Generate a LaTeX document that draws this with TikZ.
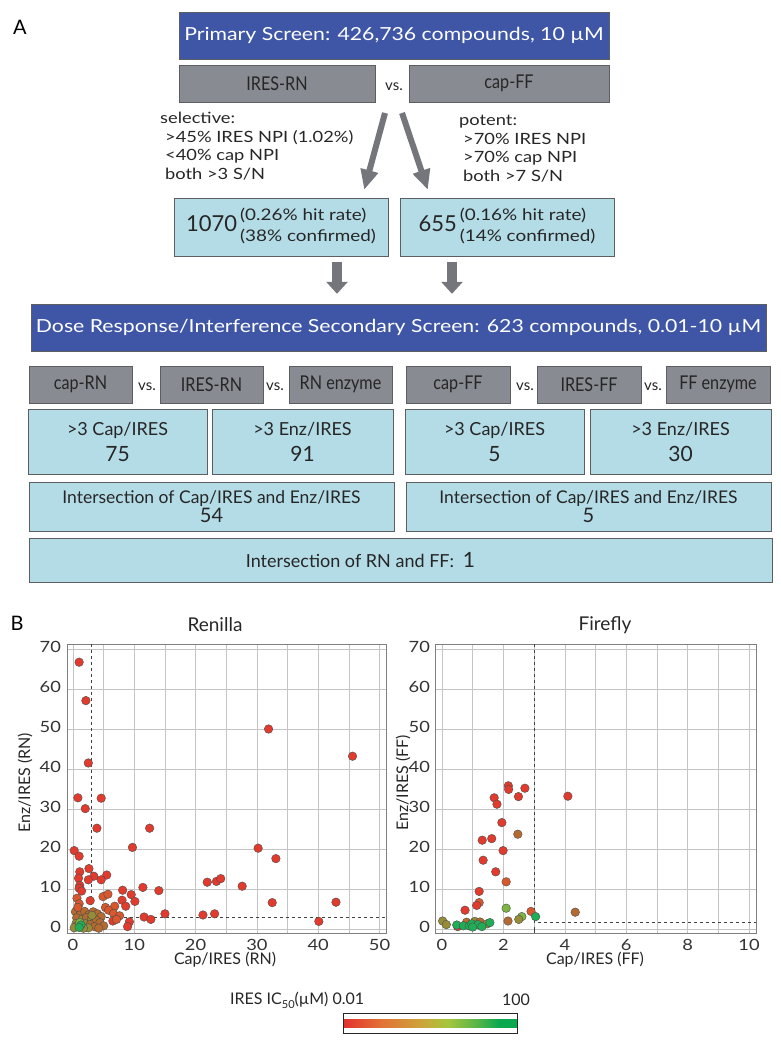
\documentclass[tikz,border=0pt]{standalone}
\usepackage{fontspec}
\setmainfont{Lato}
\newfontfamily\widefont[FakeStretch=1.18]{Lato}
\newfontfamily\narrowfont[FakeStretch=0.85]{Lato}
\usetikzlibrary{arrows.meta,positioning,calc}

\definecolor{screenblue}{HTML}{3F56A7}
\definecolor{assaygray}{HTML}{888B91}
\definecolor{hitblue}{HTML}{B4DCE7}
\definecolor{framegray}{HTML}{5C5E62}
\definecolor{gridgray}{HTML}{C4C4C4}
\definecolor{dotred}{HTML}{E23A2D}
\definecolor{dotorange}{HTML}{D9572D}
\definecolor{dotbrown}{HTML}{B56A30}
\definecolor{dotolive}{HTML}{958C35}
\definecolor{dotlime}{HTML}{7DB543}
\definecolor{dotgreen}{HTML}{1FAE55}
\definecolor{cbred}{HTML}{E2312F}
\definecolor{cborange}{HTML}{E27236}
\definecolor{cbolive}{HTML}{CDA43A}
\definecolor{cblime}{HTML}{A6C63C}
\definecolor{cbmid}{HTML}{5DB649}
\definecolor{cbgreen}{HTML}{0AA84F}

\pgfdeclarehorizontalshading{icfifty}{20bp}{color(0bp)=(cbred); color(25bp)=(cbred); color(36bp)=(cborange); color(47.5bp)=(cbolive); color(55bp)=(cblime); color(63bp)=(cbmid); color(70bp)=(cbgreen); color(100bp)=(cbgreen)}

\begin{document}
\begin{tikzpicture}[
  x=1pt, y=-1pt,
  font=\fontsize{15}{18}\selectfont,
  screen/.style={draw=framegray,fill=screenblue,text=white,inner sep=0pt,minimum height=47pt,font=\widefont\fontsize{18}{21}\selectfont},
  assay/.style={draw=framegray,fill=assaygray,inner sep=0pt,minimum height=37pt,font=\narrowfont\fontsize{19}{22}\selectfont,text=black!85},
  hits/.style={draw=framegray,fill=hitblue,inner sep=0pt,align=center,font=\fontsize{18}{21}\selectfont,text=black!85},
  versus/.style={font=\fontsize{15}{18}\selectfont,text=black!85},
  criteria/.style={anchor=north west,align=left,inner sep=0pt,text=black!85,font=\widefont\fontsize{15.5}{18.5}\selectfont},
  blockarrow/.style={draw=assaygray!85!black,line width=6pt,-{Triangle[width=17pt,length=20pt]}},
  downarrow/.style={draw=assaygray!85!black,line width=10pt,-{Triangle[width=21pt,length=12pt]}},
  panel/.style={font=\fontsize{20}{24}\selectfont},
  plottitle/.style={font=\fontsize{19}{22}\selectfont,text=black!85},
  tick/.style={font=\widefont\fontsize{15.5}{18}\selectfont,text=black!80},
  axislabel/.style={font=\fontsize{16}{19}\selectfont,text=black!85},
  gridline/.style={draw=gridgray,line width=0.6pt},
  frame/.style={draw=black!50,line width=0.8pt},
  threshold/.style={draw=black!75,dashed,line width=0.8pt},
  dot/.style={draw=black!70,line width=0.4pt}
]
  \useasboundingbox (0,0) rectangle (781,1046);

  \node[panel] (panelA) at (20,27) {A};

  \node[screen,minimum width=430pt] (primary) at (394,35.5) {Primary Screen: 426,736 compounds, 10 µM};
  \node[assay,minimum width=196pt] (iresRN) at (277,83.5) {IRES-RN};
  \node[versus] (vsA) at (394,87) {vs.};
  \node[assay,minimum width=200pt] (capFF) at (509,83.5) {cap-FF};

  \node[criteria] (selective) at (160,112) {selective:\\\hspace*{5pt}>45\% IRES NPI (1.02\%)\\\hspace*{5pt}<40\% cap NPI\\\hspace*{5pt}both >3 S/N};
  \node[criteria] (potent) at (459,115) {potent:\\\hspace*{4pt}>70\% IRES NPI\\\hspace*{4pt}>70\% cap NPI\\\hspace*{4pt}both >7 S/N};

  \node[hits,minimum width=214pt,minimum height=58pt] (hitL) at (281,227) {{\fontsize{22}{25}\selectfont 1070}\,\begin{tabular}[c]{@{}l@{}}\widefont\fontsize{16}{19}\selectfont(0.26\% hit rate)\\\widefont\fontsize{16}{19}\selectfont(38\% confirmed)\end{tabular}};
  \node[hits,minimum width=214pt,minimum height=58pt] (hitR) at (507,227) {{\fontsize{22}{25}\selectfont 655}\,\begin{tabular}[c]{@{}l@{}}\widefont\fontsize{16}{19}\selectfont(0.16\% hit rate)\\\widefont\fontsize{16}{19}\selectfont(14\% confirmed)\end{tabular}};

  \draw[blockarrow] ($(vsA)+(-9,26)$) -- ($(hitL.north east)+(-24,-8)$);
  \draw[blockarrow] ($(vsA)+(8,26)$) -- ($(hitR.north west)+(28,-8)$);

  \node[screen,minimum width=735pt] (dose) at (398.5,327.5) {Dose Response/Interference Secondary Screen: 623 compounds, 0.01-10 µM};

  \draw[downarrow] ($(hitL.south)+(56,6)$) -- ($(dose.north)+(-61.5,-10)$);
  \draw[downarrow] ($(hitR.south)+(-55,6)$) -- ($(dose.north)+(53.5,-10)$);

  \node[assay,minimum width=103pt] (capRN2) at (80.5,384.5) {cap-RN};
  \node[versus] (vsRa) at (147,387) {vs.};
  \node[assay,minimum width=103pt] (iresRN2) at (211.5,384.5) {IRES-RN};
  \node[versus] (vsRb) at (275,387) {vs.};
  \node[assay,minimum width=103pt] (enzRN) at (340.5,384.5) {RN enzyme};
  \node[assay,minimum width=104pt] (capFF2) at (458,384.5) {cap-FF};
  \node[versus] (vsFa) at (525,387) {vs.};
  \node[assay,minimum width=104pt] (iresFF2) at (589,384.5) {IRES-FF};
  \node[versus] (vsFb) at (653,387) {vs.};
  \node[assay,minimum width=104pt] (enzFF) at (718,384.5) {FF enzyme};

  \node[hits,minimum width=179pt,minimum height=65pt] (capiresRN) at (117.5,441.5) {>3 Cap/IRES\\[5pt]{\fontsize{21}{24}\selectfont 75}};
  \node[hits,minimum width=181pt,minimum height=65pt] (enziresRN) at (302.5,441.5) {>3 Enz/IRES\\[5pt]{\fontsize{21}{24}\selectfont 91}};
  \node[hits,minimum width=179pt,minimum height=65pt] (capiresFF) at (494.5,441.5) {>3 Cap/IRES\\[5pt]{\fontsize{21}{24}\selectfont 5}};
  \node[hits,minimum width=181pt,minimum height=65pt] (enziresFF) at (680.5,441.5) {>3 Enz/IRES\\[5pt]{\fontsize{21}{24}\selectfont 30}};

  \node[hits,minimum width=365pt,minimum height=49pt,font=\fontsize{17.5}{20}\selectfont] (bothRN) at (211.5,506.5) {Intersection of Cap/IRES and Enz/IRES\\[-1pt]{\fontsize{20}{22}\selectfont 54}};
  \node[hits,minimum width=365pt,minimum height=49pt,font=\fontsize{17.5}{20}\selectfont] (bothFF) at (588.5,506.5) {Intersection of Cap/IRES and Enz/IRES\\[-1pt]{\fontsize{20}{22}\selectfont 5}};

  \node[hits,minimum width=743pt,minimum height=44pt] (common) at (400.5,560) {Intersection of RN and FF:\hspace{9pt}{\fontsize{21}{24}\selectfont 1}\hspace{80pt}};

  \node[panel] (panelB) at (17,623) {B};
  \node[plottitle] (renilla) at (215,625) {Renilla};
  \node[plottitle] (firefly) at (605,625) {Firefly};

  % Renilla scatter
  \begin{scope}[shift={(73,929)},x=6.13pt,y=4pt]
    \foreach \gx in {0,5,...,50} \draw[gridline] (\gx,-1) -- (\gx,71.25);
    \foreach \gy in {0,10,...,70} \draw[gridline] (-0.98,\gy) -- (51.06,\gy);
    \draw[frame] (-0.98,-1) rectangle (51.06,71.25);
    \foreach \gx in {0,10,...,50} \node[tick] at (\gx,-3.9) {\gx};
    \foreach \gy in {0,10,...,70} \node[tick,anchor=east] at (-1.4,\gy+0.6) {\gy};
    \draw[threshold] (3,71.25) -- (3,3) -- (51.06,3);
    \foreach \px/\py/\pc in {0.4/4.3/dotbrown,1.2/3.9/dotbrown,1.9/4.4/dotbrown,2.6/3.6/dotbrown,3.3/4.3/dotbrown,4.0/3.8/dotbrown,4.6/3.1/dotbrown,0.6/2.8/dotbrown,1.5/2.4/dotolive,2.2/2.9/dotbrown,3.0/2.5/dotolive,3.8/2.2/dotbrown,4.4/1.6/dotbrown,5.0/0.8/dotbrown,0.5/1.4/dotolive,2.0/1.3/dotolive,2.8/1.1/dotbrown,3.5/0.6/dotbrown,4.2/0.2/dotbrown,0.7/0.9/dotbrown,2.5/0.3/dotolive,1.7/0.2/dotolive,3.1/3.4/dotolive,0.2/0.3/dotolive,1.1/1.6/dotlime,1.3/1.0/dotgreen,1.0/0.4/dotgreen}
      \filldraw[dot,fill=\pc] (\px,\py) circle[radius=4.3pt];
    \foreach \px/\py/\pc in {1.0/66.7/dotred,2.1/57.1/dotred,31.9/50/dotred,45.6/43.2/dotred,2.5/41.5/dotred,0.8/32.8/dotred,4.6/32.7/dotred,2.0/30.1/dotred,3.9/25.2/dotred,12.5/25.2/dotred,0.2/19.6/dotred,9.7/20.4/dotred,30.2/20.2/dotred,1.0/18.2/dotred,33.1/17.6/dotred,2.6/15.1/dotred,1.1/14.3/dotred,3.4/13.2/dotred,5.5/13.5/dotred,0.9/12.7/dotred,2.5/12.3/dotred,4.6/12.3/dotred,21.9/11.7/dotred,23.4/11.9/dotred,24.1/12.6/dotred,27.6/10.7/dotred,11.4/10.4/dotred,1.1/10.9/dotred,1.0/10.2/dotred,1.4/9.5/dotred,8.1/9.7/dotred,14.0/9.6/dotred,4.9/8.1/dotorange,5.7/8.7/dotorange,9.5/8.6/dotred,0.65/7.7/dotorange,8.0/7.2/dotred,2.8/7.1/dotred,10.1/6.9/dotred,32.5/6.6/dotred,42.9/6.7/dotred,1.0/6.3/dotorange,6.8/5.7/dotorange,8.6/5.7/dotred,5.3/5.4/dotorange,0.8/5.4/dotorange,5.8/4.7/dotorange,6.6/3.9/dotorange,7.6/3.3/dotorange,15.0/3.8/dotred,21.2/3.5/dotred,23.1/3.8/dotred,11.6/3.0/dotred,12.7/2.4/dotred,6.5/2.0/dotred,7.1/2.4/dotorange,9.2/1.8/dotred,8.9/0.6/dotred,40.1/1.9/dotred}
      \filldraw[dot,fill=\pc] (\px,\py) circle[radius=4.3pt];
  \end{scope}
  \node[axislabel] (xlabRN) at (225,960) {Cap/IRES (RN)};
  \node[axislabel,rotate=90] (ylabRN) at (25,783) {Enz/IRES (RN)};

  % Firefly scatter
  \begin{scope}[shift={(442,929)},x=30.7pt,y=4pt]
    \foreach \gx in {0,...,10} \draw[gridline] (\gx,-1) -- (\gx,71.25);
    \foreach \gy in {0,10,...,70} \draw[gridline] (-0.23,\gy) -- (10.23,\gy);
    \draw[frame] (-0.23,-1) rectangle (10.23,71.25);
    \foreach \gx in {0,2,...,10} \node[tick] at (\gx,-3.9) {\gx};
    \foreach \gy in {0,10,...,70} \node[tick,anchor=east] at (-0.28,\gy+0.6) {\gy};
    \draw[threshold] (3,71.25) -- (3,1.75) -- (10.23,1.75);
    \draw[black!75,line width=0.8pt] (3,-1) -- (3,0.4);
    \foreach \px/\py/\pc in {2.16/35.8/dotred,2.17/34.9/dotred,2.7/35.2/dotred,1.70/32.8/dotred,2.49/33.1/dotred,4.10/33.2/dotred,1.79/31.2/dotred,1.95/26.6/dotred,2.47/23.7/dotbrown,1.31/22.2/dotred,1.62/22.6/dotred,1.99/19.6/dotred,1.34/17.2/dotred,1.75/14.3/dotred,2.09/11.8/dotorange,1.21/9.4/dotred,1.21/6.6/dotorange,1.13/5.9/dotred,0.75/4.7/dotred,2.09/5.2/dotlime,2.90/4.4/dotorange,4.34/4.2/dotbrown,3.05/3.1/dotgreen,2.6/3.1/dotlime,2.5/2.4/dotolive,2.15/2.0/dotbrown,0.02/2.0/dotolive,0.14/1.1/dotolive,0.8/1.7/dotbrown,1.07/1.9/dotolive,1.24/1.75/dotbrown,1.47/1.3/dotolive,0.51/0.6/dotred,0.48/1.0/dotgreen,0.7/0.8/dotgreen,0.89/0.8/dotgreen,0.97/1.3/dotgreen,1.17/1.1/dotgreen,1.3/0.6/dotgreen,1.56/1.6/dotgreen,1.0/0.5/dotgreen}
      \filldraw[dot,fill=\pc] (\px,\py) circle[radius=4.3pt];
  \end{scope}
  \node[axislabel] (xlabFF) at (595,960) {Cap/IRES (FF)};
  \node[axislabel,rotate=90] (ylabFF) at (403,783) {Enz/IRES (FF)};

  % colour key
  \node[axislabel,anchor=west,inner sep=0pt] (keylabel) at (230,1000) {IRES IC\raisebox{-4pt}{\fontsize{11}{12}\selectfont 50}(µM) 0.01};
  \node[axislabel] (keymax) at (516,1000) {100};
  \shade[shading=icfifty] (343,1013) rectangle (517,1033);
  \draw[black!85,line width=0.6pt] (343,1013) rectangle (517,1033);
\end{tikzpicture}
\end{document}
